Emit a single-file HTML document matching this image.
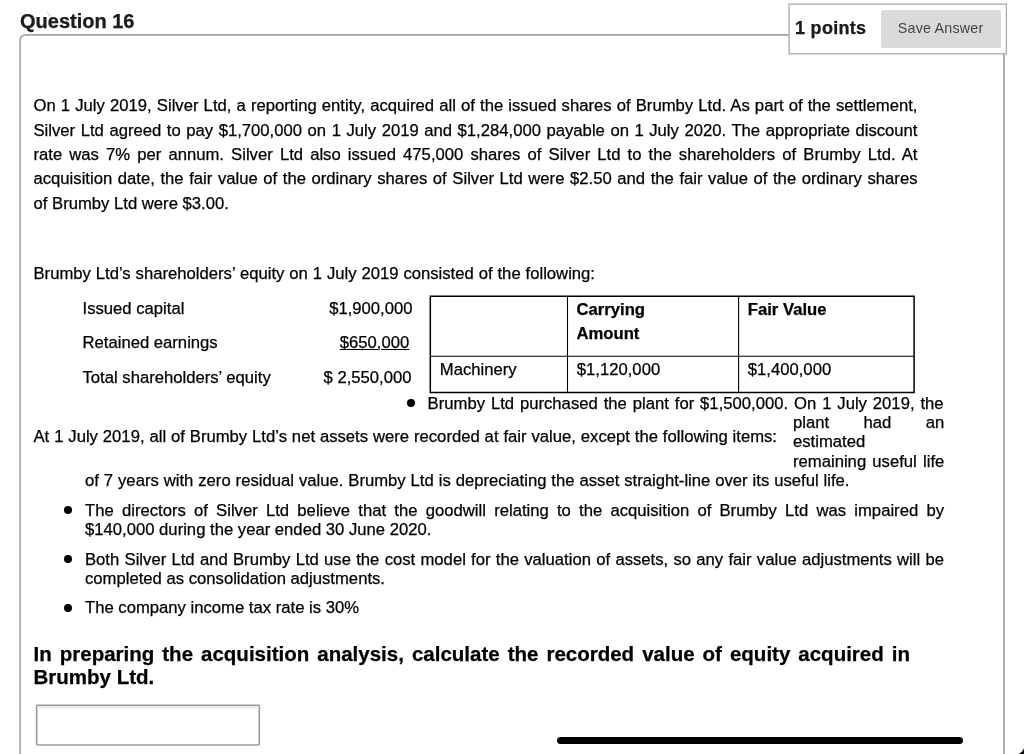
<!DOCTYPE html>
<html><head><meta charset="utf-8">
<style>
*{margin:0;padding:0;box-sizing:border-box}
html,body{width:1024px;height:754px;overflow:hidden;background:#fff}
body{will-change:transform}
body{position:relative;font-family:"Liberation Sans",sans-serif;color:#000;font-size:16.67px;-webkit-text-stroke:0.25px #000}
.a{position:absolute;white-space:nowrap}
.j{position:absolute;white-space:nowrap;text-align:justify;text-align-last:justify}
.b{font-weight:bold}
.hdr{font-weight:bold;color:#1c1c1c}
svg{position:absolute;left:0;top:0}
.dot{position:absolute;width:7.8px;height:7.8px;border-radius:50%;background:#000}
#save{position:absolute;left:880.5px;top:10px;width:120px;height:37.6px;background:#dadada;border-radius:2px}
#ans{position:absolute;left:36px;top:704.5px;width:224px;height:41.3px;border:1.5px solid #9a9a9a;background:#fff;box-shadow:inset 0 1.5px 2px rgba(0,0,0,.12)}
#bar{position:absolute;left:557px;top:737px;width:406px;height:7px;background:#000;border-radius:3.5px}
</style></head><body>
<svg width="1024" height="754" viewBox="0 0 1024 754">
  <!-- main box -->
  <path d="M20.1 760 L20.1 40.8 Q20.1 34.85 26 34.85 L789 34.85" fill="none" stroke="#a4a4a4" stroke-width="1.6"/>
  <path d="M1004 54 L1004 760" fill="none" stroke="#a4a4a4" stroke-width="1.8"/>
  <!-- points box -->
  <rect x="789.1" y="4.1" width="217.3" height="49.7" fill="#fff" stroke="#ababab" stroke-width="1.3"/>
  <!-- table -->
  <g stroke="#000" fill="none">
    <rect x="430.3" y="296.2" width="583.8" height="96.2" stroke-width="1.5" transform="scale(1)" style="display:none"/>
    <path d="M430.3 295.5 L430.3 393.1 M914.1 295.5 L914.1 393.1 M429.6 296.2 L914.8 296.2 M429.6 392.4 L914.8 392.4" stroke-width="1.5"/>
    <path d="M567.5 296.2 L567.5 392.4 M738.6 296.2 L738.6 392.4 M430.3 356.3 L914.1 356.3" stroke-width="1.1"/>
  </g>
  <path d="M47 12 L50.7 16.2" stroke="#bdbdbd" stroke-width="0.9"/>
  <!-- answer box -->
  <rect x="36.65" y="705.25" width="222.65" height="39.7" rx="1.2" fill="#fff" stroke="#9a9a9a" stroke-width="1.6"/>
  <path d="M37.5 707 L258.5 707" stroke="#e4e4e4" stroke-width="1.4"/>
  <path d="M37.5 708.3 L258.5 708.3" stroke="#f3f3f3" stroke-width="1"/>
  <!-- bottom right corner -->
  <path d="M1018.3 754 Q1022.5 752.5 1024 748 L1024 754 Z" fill="#000"/>
</svg>

<div class="a hdr" style="left:20px;top:10px;font-size:20px">Question 16</div>
<div class="a hdr" style="left:795px;top:17.5px;font-size:18px;letter-spacing:0.3px">1 points</div>
<div id="save"></div>
<div class="a" style="left:897.8px;top:19.5px;font-size:14.3px;letter-spacing:0.2px;color:#444;-webkit-text-stroke:0">Save Answer</div>

<div class="j" style="left:33.5px;top:96px;width:884px">On 1 July 2019, Silver Ltd, a reporting entity, acquired all of the issued shares of Brumby Ltd. As part of the settlement,</div>
<div class="j" style="left:33.5px;top:120.5px;width:884px">Silver Ltd agreed to pay $1,700,000 on 1 July 2019 and $1,284,000 payable on 1 July 2020. The appropriate discount</div>
<div class="j" style="left:33.5px;top:145px;width:884px">rate was 7% per annum. Silver Ltd also issued 475,000 shares of Silver Ltd to the shareholders of Brumby Ltd. At</div>
<div class="j" style="left:33.5px;top:169px;width:884px">acquisition date, the fair value of the ordinary shares of Silver Ltd were $2.50 and the fair value of the ordinary shares</div>
<div class="a" style="left:33.5px;top:193.5px">of Brumby Ltd were $3.00.</div>

<div class="j" style="left:33.5px;top:264px;width:561.5px">Brumby Ltd’s shareholders’ equity on 1 July 2019 consisted of the following:</div>

<div class="a" style="left:82.5px;top:298.5px">Issued capital</div>
<div class="a" style="left:82.5px;top:333.3px">Retained earnings</div>
<div class="a" style="left:82.5px;top:367.5px">Total shareholders’ equity</div>
<div class="a" style="right:611.5px;top:298.5px">$1,900,000</div>
<div class="a" style="right:614.8px;top:333px;text-decoration:underline;text-underline-offset:1.2px;text-decoration-thickness:1px">$650,000</div>
<div class="a" style="right:612.5px;top:367.5px">$ 2,550,000</div>

<div class="a b" style="left:576.5px;top:299.8px">Carrying</div>
<div class="a b" style="left:576.5px;top:324px">Amount</div>
<div class="a b" style="left:747.8px;top:299.8px">Fair Value</div>
<div class="a" style="left:439.8px;top:360px">Machinery</div>
<div class="a" style="left:576.8px;top:360px">$1,120,000</div>
<div class="a" style="left:747.8px;top:360px">$1,400,000</div>

<div class="dot" style="left:407.2px;top:399.3px"></div>
<div class="j" style="left:427.6px;top:394px;width:516px">Brumby Ltd purchased the plant for $1,500,000. On 1 July 2019, the</div>
<div class="j" style="left:33.5px;top:427px;width:743.5px">At 1 July 2019, all of Brumby Ltd’s net assets were recorded at fair value, except the following items:</div>
<div class="j" style="left:793px;top:412.7px;width:151.3px">plant had an</div>
<div class="a" style="left:793px;top:432px">estimated</div>
<div class="j" style="left:793px;top:451.5px;width:151.3px">remaining useful life</div>
<div class="j" style="left:85px;top:471px;width:764.5px">of 7 years with zero residual value. Brumby Ltd is depreciating the asset straight-line over its useful life.</div>

<div class="dot" style="left:63.95px;top:505.95px"></div>
<div class="j" style="left:85px;top:500.6px;width:859px">The directors of Silver Ltd believe that the goodwill relating to the acquisition of Brumby Ltd was impaired by</div>
<div class="a" style="left:85px;top:519.6px">$140,000 during the year ended 30 June 2020.</div>
<div class="dot" style="left:63.95px;top:554.9px"></div>
<div class="j" style="left:85px;top:549.6px;width:859px">Both Silver Ltd and Brumby Ltd use the cost model for the valuation of assets, so any fair value adjustments will be</div>
<div class="a" style="left:85px;top:568.8px">completed as consolidation adjustments.</div>
<div class="dot" style="left:63.95px;top:603.9px"></div>
<div class="a" style="left:85px;top:598.3px">The company income tax rate is 30%</div>

<div class="j b" style="left:33.5px;top:641.5px;width:876.5px;font-size:20.5px">In preparing the acquisition analysis, calculate the recorded value of equity acquired in</div>
<div class="a b" style="left:33.5px;top:664.5px;font-size:20.5px">Brumby Ltd.</div>

<div id="bar"></div>
</body></html>
